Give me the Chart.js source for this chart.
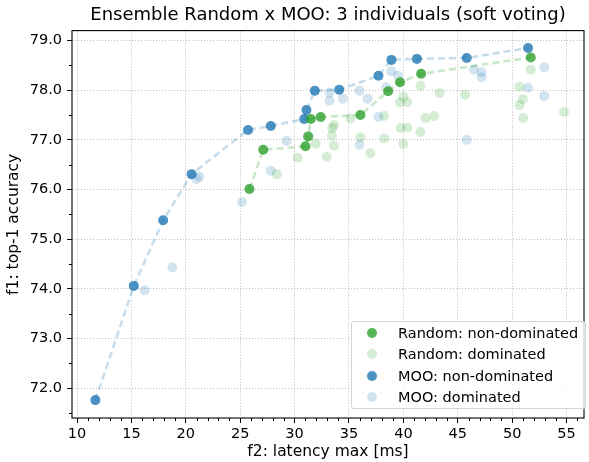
<!DOCTYPE html>
<html>
<head>
<meta charset="utf-8">
<script src="https://cdn.jsdelivr.net/npm/chart.js@4.4.1/dist/chart.umd.min.js"></script>
<style>
  body { margin: 0; background: #fff; font-family: "DejaVu Sans", sans-serif; }
  #wrap { position: relative; width: 589px; height: 462px; }
  #legend {
    position: absolute; left: 351px; top: 321px; width: 233px; height: 86px;
    border: 1px solid #d4d4d4; border-radius: 3px; background: rgba(255,255,255,0.8);
    font-size: 14.5px; color: #000;
  }
  #legend .row { position: absolute; left: 0; height: 20px; line-height: 20px; white-space: nowrap; }
  #legend .dot { position: absolute; left: 15px; top: 5px; width: 10px; height: 10px; border-radius: 50%; }
  #legend .txt { position: absolute; left: 46px; top: 0; }
</style>
</head>
<body>
<div id="wrap">
  <canvas id="chart"></canvas>
  <div id="legend"></div>
</div>
<script>
// latency max [ms] (x) and top-1 accuracy (y)
const randomFrontX = [25.85, 27.12, 31.00, 31.25, 31.49, 32.40, 36.05, 38.60, 39.69, 41.63, 51.71];
const randomFrontY = [76.01, 76.80, 76.87, 77.07, 77.42, 77.46, 77.50, 77.98, 78.16, 78.33, 78.66];

const randomDomX = [30.27, 28.36, 31.95, 32.95, 33.62, 33.43, 33.46, 33.62, 35.14, 36.05, 36.96, 38.23, 38.23,
  39.99, 39.69, 40.36, 39.75, 40.36, 39.99, 41.57, 41.57, 43.33, 42.02, 42.84, 45.66, 51.71, 50.67, 50.98,
  50.67, 51.01, 54.77];
const randomDomY = [76.64, 76.31, 76.92, 76.66, 76.88, 77.09, 77.24, 77.30, 77.43, 77.05, 76.73, 77.48, 77.03,
  77.87, 77.75, 77.76, 77.24, 77.25, 76.92, 77.16, 78.09, 77.94, 77.44, 77.48, 77.91, 78.41, 78.07, 77.82,
  77.70, 77.44, 77.56];

const mooFrontX = [11.69, 15.22, 17.92, 20.53, 25.72, 27.81, 30.88, 31.09, 31.86, 34.10, 37.71, 38.90, 41.24, 45.82, 51.46];
const mooFrontY = [71.76, 74.06, 75.38, 76.31, 77.20, 77.28, 77.42, 77.60, 77.99, 78.01, 78.29, 78.61, 78.63, 78.65, 78.85];

const mooDomX = [21.23, 20.98, 25.17, 18.77, 16.22, 29.27, 27.81, 33.22, 33.22, 34.44, 35.96, 36.71, 37.71,
  35.96, 38.42, 38.90, 39.51, 46.49, 47.19, 47.19, 52.95, 51.46, 52.95, 45.82];
const mooDomY = [76.26, 76.21, 75.75, 74.43, 73.97, 76.98, 76.38, 77.95, 77.79, 77.83, 77.99, 77.83, 77.46,
  76.90, 78.06, 78.38, 78.29, 78.41, 78.36, 78.26, 78.46, 78.05, 77.88, 77.00];

const xTicks = [10, 15, 20, 25, 30, 35, 40, 45, 50, 55];
const yTicks = [72, 73, 74, 75, 76, 77, 78, 79];

const green = "rgba(44, 160, 44, 0.8)";
const greenLight = "rgba(44, 160, 44, 0.2)";
const blue = "rgba(31, 119, 180, 0.8)";
const blueLight = "rgba(31, 119, 180, 0.2)";

const pts = (xs, ys) => xs.map((x, i) => ({ x: x, y: ys[i] }));

// minor ticks every 1 ms / 0.5 %
const xMinor = [];
for (let v = 10; v <= 56; v++) if (v % 5) xMinor.push(v);
const yMinor = [];
for (let v = 71.5; v <= 79; v += 1) yMinor.push(v);

const frame = {
  id: "frame",
  afterDraw(chart) {
    const { ctx, chartArea: a, scales } = chart;
    ctx.save();
    ctx.strokeStyle = "#000";
    ctx.lineWidth = 1;
    ctx.beginPath();
    xMinor.forEach(v => {
      const p = Math.round(scales.x.getPixelForValue(v)) + 0.5;
      ctx.moveTo(p, a.bottom); ctx.lineTo(p, a.bottom + 3);
    });
    yMinor.forEach(v => {
      const p = Math.round(scales.y.getPixelForValue(v)) + 0.5;
      ctx.moveTo(a.left, p); ctx.lineTo(a.left - 3, p);
    });
    ctx.stroke();
    ctx.lineWidth = 1.1;
    ctx.strokeRect(a.left, a.top, a.right - a.left, a.bottom - a.top);
    ctx.restore();
  }
};

const scatter = (label, xs, ys, color, order) => ({
  type: "scatter", label, data: pts(xs, ys), order,
  backgroundColor: color, borderWidth: 0, pointRadius: 5, pointHoverRadius: 5
});
const front = (xs, ys, color, order) => ({
  type: "line", data: pts(xs, ys), order,
  borderColor: color, borderWidth: 2.6, borderDash: [7, 4], pointRadius: 0, fill: false, tension: 0
});

const grid = { color: "#b0b0b0", lineWidth: 0.8, tickLength: 5, tickColor: "#000", tickWidth: 1 };
const tickFont = { family: "DejaVu Sans", size: 14.5 };
const labelFont = { family: "DejaVu Sans", size: 15.5 };

new Chart(document.getElementById("chart"), {
  type: "scatter",
  data: {
    datasets: [
      scatter("Random: non-dominated", randomFrontX, randomFrontY, green, 1),
      scatter("MOO: non-dominated", mooFrontX, mooFrontY, blue, 2),
      front(mooFrontX, mooFrontY, "rgba(31, 119, 180, 0.25)", 3),
      front(randomFrontX, randomFrontY, "rgba(44, 160, 44, 0.25)", 4),
      scatter("MOO: dominated", mooDomX, mooDomY, blueLight, 5),
      scatter("Random: dominated", randomDomX, randomDomY, greenLight, 6)
    ]
  },
  options: {
    responsive: true,
    maintainAspectRatio: false,
    animation: false,
    layout: { padding: { left: 0, right: 1, top: 0, bottom: 0 } },
    plugins: {
      legend: { display: false },
      tooltip: { enabled: false },
      title: {
        display: true, fullSize: false,
        text: "Ensemble Random x MOO: 3 individuals (soft voting)",
        color: "#000", font: { family: "DejaVu Sans", size: 18, weight: "normal" },
        padding: { top: 5, bottom: 4 }
      }
    },
    scales: {
      x: {
        type: "linear", min: 9.54, max: 56.6,
        afterFit: s => { s.height = 44; },
        afterBuildTicks: s => { s.ticks = xTicks.map(v => ({ value: v })); },
        grid: grid,
        border: { display: false, dash: [1.1, 1.9] },
        ticks: { color: "#000", font: tickFont, padding: 3, maxRotation: 0 },
        title: { display: true, text: "f2: latency max [ms]", color: "#000", font: labelFont, padding: { top: 0, bottom: 1 } }
      },
      y: {
        type: "linear", min: 71.4, max: 79.2,
        afterFit: s => { s.width = 72; },
        afterBuildTicks: s => { s.ticks = yTicks.map(v => ({ value: v })); },
        grid: grid,
        border: { display: false, dash: [1.1, 1.9] },
        ticks: { color: "#000", font: tickFont, padding: 5, callback: v => v.toFixed(1) },
        title: { display: true, text: "f1: top-1 accuracy", color: "#000", font: labelFont, padding: { top: 5, bottom: 0 } }
      }
    }
  },
  plugins: [frame]
});

// legend inside the plot, bottom right
const legendItems = [
  ["Random: non-dominated", green],
  ["Random: dominated", greenLight],
  ["MOO: non-dominated", blue],
  ["MOO: dominated", blueLight]
];
const legend = document.getElementById("legend");
legendItems.forEach(([text, color], i) => {
  const row = document.createElement("div");
  row.className = "row";
  row.style.top = (1 + i * 21.3) + "px";
  row.innerHTML = '<span class="dot" style="background:' + color + '"></span><span class="txt">' + text + "</span>";
  legend.appendChild(row);
});
</script>
</body>
</html>
